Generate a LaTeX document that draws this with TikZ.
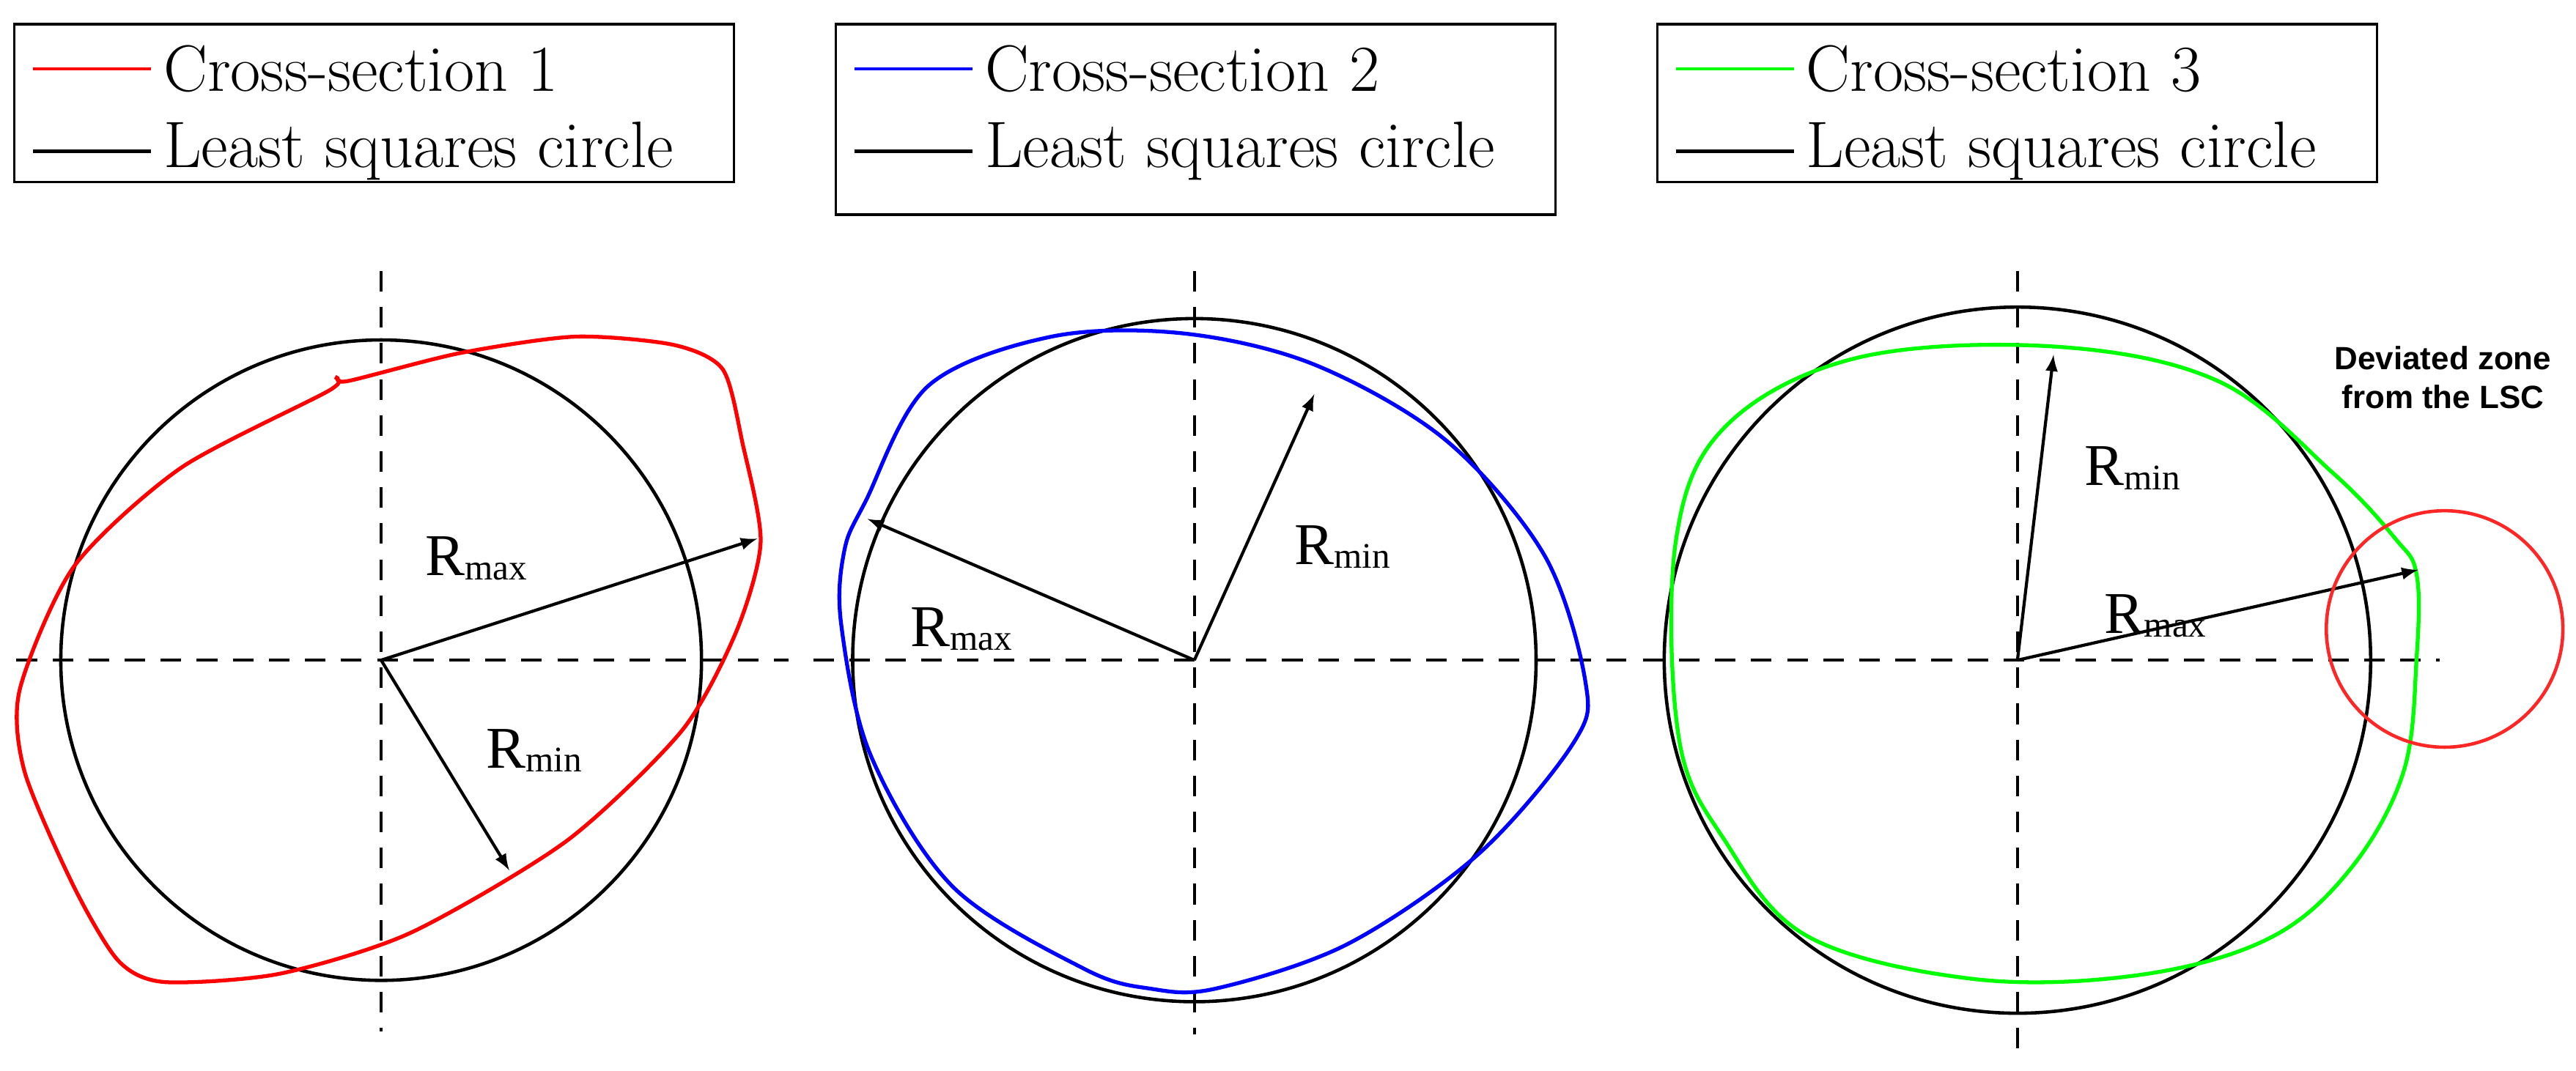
\documentclass[tikz,border=0pt]{standalone}
\usepackage{fontspec}
\newfontfamily\tms{Liberation Serif}
\newfontfamily\sns{Liberation Sans}
\begin{document}
\begin{tikzpicture}[x=0.02242cm,y=-0.02242cm,
 dsh/.style={dashed,line width=1.2pt,dash pattern=on 8pt off 6pt},
 circ/.style={line width=1.3pt},
 cur/.style={line width=1.5pt},
 arr/.style={-latex,line width=1.2pt},
 lab/.style={font=\fontsize{23}{26}\tms},
 leg/.style={draw,line width=1pt,minimum width=438*0.02242cm,anchor=north west},
 lt/.style={font=\fontsize{25.5}{28}\selectfont,anchor=west}]
\useasboundingbox (0,0) rectangle (1568,652);
\newcommand\Rl[1]{R\raisebox{-0.15ex}{\fontsize{14}{16}\selectfont #1}}
% legends
\foreach \x/\c/\n/\h in {8/red/1/96,508/blue/2/116,1008/green/3/96}{
 \node[leg,minimum height=\h*0.02242cm] (box\n) at (\x,14) {};
 \draw[\c,line width=1.3pt] (\x+12,42) -- (\x+84,42);
 \draw[black,line width=1.3pt] (\x+12,92) -- (\x+84,92);
 \node[lt] (t\n a) at (\x+86,42) {Cross-section \n};
 \node[lt] (t\n b) at (\x+86,92) {Least squares circle};
}
% panel 1
\coordinate (c1) at (232,402);
\draw[dsh] (10,402) -- (480,402); \draw[dsh] (232,165) -- (232,628);
\draw[circ] (c1) circle[radius=195];
\draw[red,cur] plot[smooth cycle,tension=0.45] coordinates {(12,420)(45,345)(110,285)(200,238)(205,230)(212,232)(280,215)(350,205)(410,210)(440,225)(452,270)(463,330)(448,385)(415,445)(345,512)(250,568)(170,593)(100,598)(72,585)(45,540)(15,470)};
\coordinate (m1) at (461,328); \coordinate (n1) at (310,530);
\draw[arr] (c1) -- (m1); \draw[arr] (c1) -- (n1);
\node[lab] (l1a) at (290,340) {\Rl{max}};
\node[lab] (l1b) at (325,457) {\Rl{min}};
% panel 2
\coordinate (c2) at (727,402);
\draw[dsh] (495,402) -- (990,402); \draw[dsh] (727,165) -- (727,630);
\draw[circ] (c2) circle[radius=208];
\draw[blue,cur] plot[smooth cycle,tension=0.55] coordinates {(527,305)(565,235)(640,205)(720,203)(800,222)(880,268)(940,338)(965,415)(958,452)(900,520)(820,575)(740,602)(700,602)(660,590)(580,540)(530,460)(512,380)(514,335)};
\coordinate (m2) at (528,316); \coordinate (n2) at (800,240);
\draw[arr] (c2) -- (m2); \draw[arr] (c2) -- (n2);
\node[lab] (l2a) at (585,383) {\Rl{max}};
\node[lab] (l2b) at (817,333) {\Rl{min}};
% panel 3
\coordinate (c3) at (1228,402);
\draw[dsh] (1000,402) -- (1485,402); \draw[dsh] (1228,165) -- (1228,640);
\draw[circ] (c3) circle[radius=215];
\draw[green,cur] plot[smooth cycle,tension=0.6] coordinates {(1020,330)(1050,260)(1130,218)(1250,211)(1350,232)(1420,288)(1458,328)(1471,350)(1471,400)(1463,470)(1430,530)(1380,572)(1300,594)(1200,596)(1100,570)(1050,512)(1022,450)};
\coordinate (m3) at (1472,347); \coordinate (n3) at (1250,216);
\draw[arr] (c3) -- (m3); \draw[arr] (c3) -- (n3);
\node[lab] (l3a) at (1312,375) {\Rl{max}};
\node[lab] (l3b) at (1298,285) {\Rl{min}};
\draw[red!85!white,line width=1.3pt] (1488,383) circle[radius=72];
\node[font=\fontsize{12.5}{15}\sns\bfseries,align=center] (dz) at (1487,230) {Deviated zone\\from the LSC};
\end{tikzpicture}
\end{document}
